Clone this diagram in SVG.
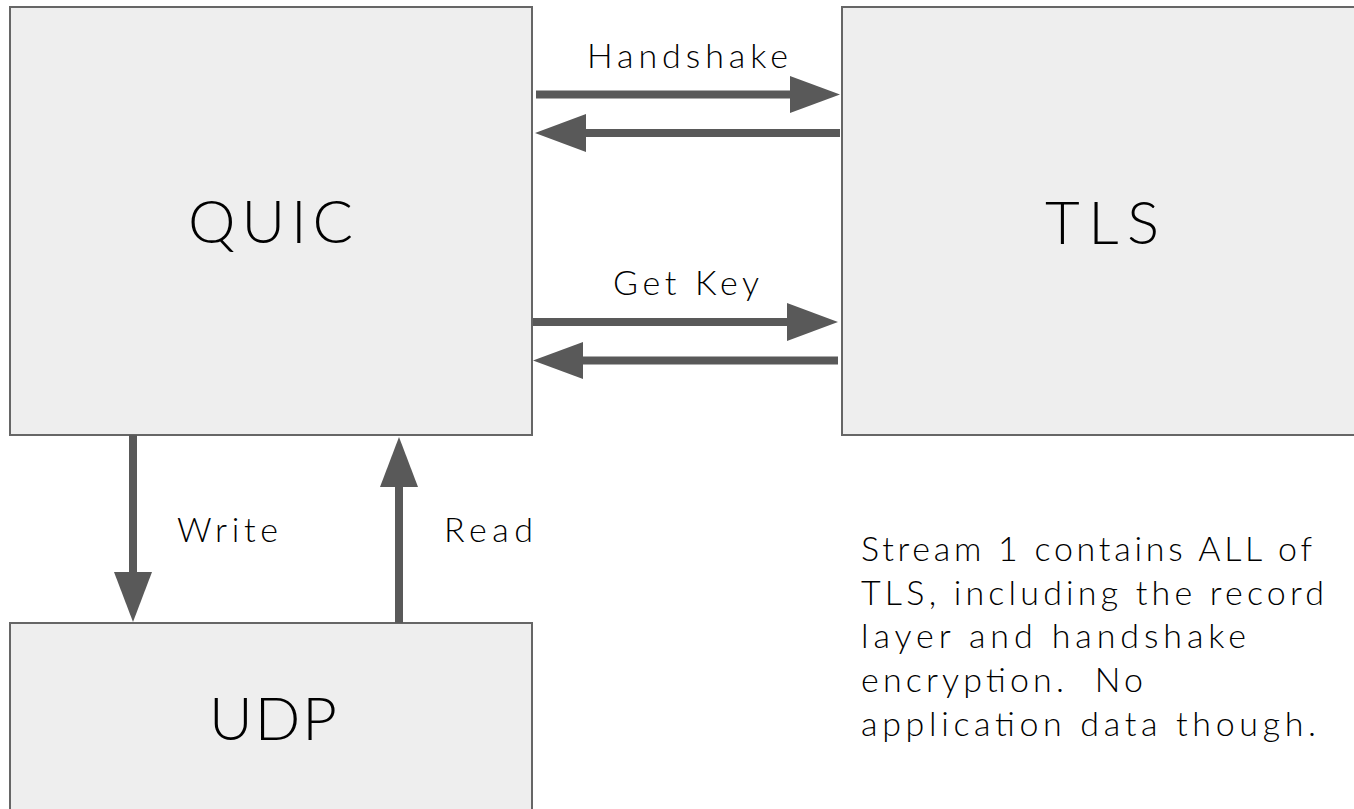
<svg xmlns="http://www.w3.org/2000/svg" width="1354" height="809" viewBox="0 0 1354 809">
  <style>
    .box { fill: #eeeeee; stroke: #666666; stroke-width: 2; }
    .title { font-family: "Lato", "DejaVu Sans", sans-serif; font-weight: 300; font-size: 60px; fill: #000000; }
    .label { font-family: "Lato", "DejaVu Sans", sans-serif; font-weight: 300; font-size: 34px; fill: #000000; }
    .shaft { stroke: #595959; stroke-width: 8; fill: none; }
    .head { fill: #595959; }
  </style>
  <rect width="1354" height="809" fill="#ffffff"/>

  <g id="quic">
    <rect class="box" x="10" y="7" width="522" height="428"/>
    <text class="title" x="188" y="243" textLength="165" lengthAdjust="spacing">QUIC</text>
  </g>

  <g id="tls">
    <rect class="box" x="842" y="7" width="520" height="428"/>
    <text class="title" x="1045" y="244" textLength="114" lengthAdjust="spacing">TLS</text>
  </g>

  <g id="udp">
    <rect class="box" x="10" y="623" width="522" height="200"/>
    <text class="title" x="209" y="740" textLength="128" lengthAdjust="spacing">UDP</text>
  </g>

  <g id="connectors">
    <!-- handshake: QUIC -> TLS -->
    <line class="shaft" x1="536" y1="94.5" x2="792" y2="94.5"/>
    <polygon class="head" points="790,76 840,94.5 790,113"/>
    <!-- handshake: TLS -> QUIC -->
    <line class="shaft" x1="584" y1="133" x2="840" y2="133"/>
    <polygon class="head" points="586,114 535,133 586,152"/>
    <text class="label" x="587" y="68" textLength="201" lengthAdjust="spacing">Handshake</text>

    <!-- key exchange: QUIC -> TLS -->
    <line class="shaft" x1="533" y1="322" x2="789" y2="322"/>
    <polygon class="head" points="787,303 838,322 787,341"/>
    <!-- key exchange: TLS -> QUIC -->
    <line class="shaft" x1="581" y1="360.5" x2="838" y2="360.5"/>
    <polygon class="head" points="583,342 533,360.5 583,379"/>
    <text class="label" x="613" y="295" textLength="146" lengthAdjust="spacing">Get Key</text>

    <!-- write: QUIC -> UDP -->
    <line class="shaft" x1="133" y1="435" x2="133" y2="574"/>
    <polygon class="head" points="114,572 133,622 152,572"/>
    <text class="label" x="177" y="542" textLength="101" lengthAdjust="spacing">Write</text>

    <!-- read: UDP -> QUIC -->
    <line class="shaft" x1="399" y1="623" x2="399" y2="485"/>
    <polygon class="head" points="380,487 399,437 418,487"/>
    <text class="label" x="444" y="542" textLength="89" lengthAdjust="spacing">Read</text>
  </g>

  <g id="note">
    <text class="label" x="861" y="561" textLength="451" lengthAdjust="spacing">Stream 1 contains ALL of</text>
    <text class="label" x="861" y="605" textLength="463" lengthAdjust="spacing">TLS, including the record</text>
    <text class="label" x="861" y="648" textLength="385" lengthAdjust="spacing">layer and handshake</text>
    <text class="label" x="861" y="692" textLength="282" lengthAdjust="spacing">encryption.&#160; No</text>
    <text class="label" x="861" y="736" textLength="455" lengthAdjust="spacing">application data though.</text>
  </g>
</svg>
